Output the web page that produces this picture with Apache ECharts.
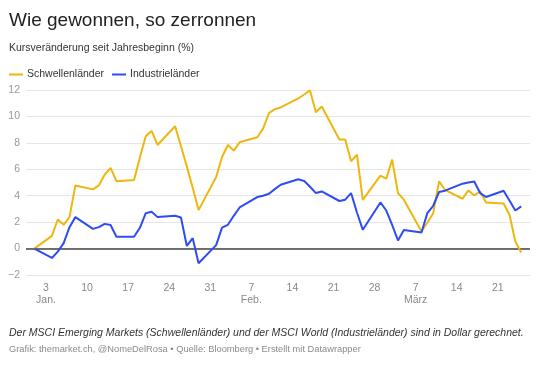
<!DOCTYPE html>
<html>
<head>
<meta charset="utf-8">
<script src="https://cdn.jsdelivr.net/npm/echarts@6/dist/echarts.min.js"></script>
<style>
html,body{margin:0;padding:0;background:#fff;}
#chart{width:540px;height:366px;}
</style>
</head>
<body>
<div id="chart"></div>
<script>
var seriesNames = ['Schwellenländer', 'Industrieländer'];

var dates = [
 '2021-01-01','2021-01-04','2021-01-05','2021-01-06','2021-01-07','2021-01-08',
 '2021-01-11','2021-01-12','2021-01-13','2021-01-14','2021-01-15',
 '2021-01-18','2021-01-19','2021-01-20','2021-01-21','2021-01-22',
 '2021-01-25','2021-01-26','2021-01-27','2021-01-28','2021-01-29',
 '2021-02-01','2021-02-02','2021-02-03','2021-02-04','2021-02-05',
 '2021-02-08','2021-02-09','2021-02-10','2021-02-11','2021-02-12',
 '2021-02-15','2021-02-16','2021-02-17','2021-02-18','2021-02-19',
 '2021-02-22','2021-02-23','2021-02-24','2021-02-25','2021-02-26',
 '2021-03-01','2021-03-02','2021-03-03','2021-03-04','2021-03-05',
 '2021-03-08','2021-03-09','2021-03-10','2021-03-11','2021-03-12',
 '2021-03-15','2021-03-16','2021-03-17','2021-03-18','2021-03-19',
 '2021-03-22','2021-03-23','2021-03-24','2021-03-25'
];

var emerging = [
 0, 0.96, 2.2, 1.8, 2.38, 4.78,
 4.48, 4.78, 5.6, 6.1, 5.1,
 5.19, 6.9, 8.5, 8.9, 7.84,
 9.26, 7.74, 6.22, 4.6, 2.91,
 5.42, 6.93, 7.84, 7.41, 8.04,
 8.42, 9.08, 10.25, 10.55, 10.68,
 11.36, 11.66, 11.97, 10.32, 10.75,
 8.25, 8.25, 6.6, 7.1, 3.69,
 5.52, 5.29, 6.73, 4.2, 3.7,
 1.29, 1.95, 2.68, 5.08, 4.45,
 3.77, 4.4, 4.02, 4.33, 3.49,
 3.41, 2.56, 0.53, -0.3
];

var developed = [
 0, -0.71, -0.23, 0.41, 1.62, 2.38,
 1.49, 1.62, 1.87, 1.78, 0.89,
 0.89, 1.57, 2.68, 2.78, 2.38,
 2.48, 2.35, 0.2, 0.79, -1.11,
 0.26, 1.59, 1.8, 2.48, 3.11,
 3.9, 4.0, 4.15, 4.5, 4.83,
 5.24, 5.11, 4.68, 4.2, 4.32,
 3.6, 3.7, 4.2, 2.73, 1.42,
 3.49, 2.88, 1.8, 0.61, 1.4,
 1.21, 2.68, 3.24, 4.28, 4.38,
 4.91, 5.0, 5.08, 4.2, 3.9,
 4.38, 3.64, 2.88, 3.19
];

var tickDates = ['2021-01-03','2021-01-10','2021-01-17','2021-01-24','2021-01-31',
 '2021-02-07','2021-02-14','2021-02-21','2021-02-28','2021-03-07','2021-03-14','2021-03-21'];
var tickLabels = ['3\nJan.','10','17','24','31','7\nFeb.','14','21','28','7\nMärz','14','21'];

var yTicks = [-2, 0, 2, 4, 6, 8, 10, 12];

var colors = ['#EDB70F', '#2D4CF3'];
var FONT = '"Liberation Sans", Arial, sans-serif';
var DAY = 86400000;

function ts(d){ var p = d.split('-'); return Date.UTC(+p[0], +p[1]-1, +p[2]); }
var tickTs = tickDates.map(ts);

function pairs(vals){ return dates.map(function(d,i){ return [ts(d), vals[i]]; }); }

var chart = echarts.init(document.getElementById('chart'), null, {renderer:'canvas'});
var option = {
  animation: false,
  backgroundColor: '#fff',
  textStyle: { fontFamily: FONT },
  graphic: [
    { type:'text', left: 9, top: 11, style:{ text:'Wie gewonnen, so zerronnen', font:'19px ' + FONT, fill:'#222' } },
    { type:'text', left: 9, top: 43, style:{ text:'Kursveränderung seit Jahresbeginn (%)', font:'10.5px ' + FONT, fill:'#333' } },
    { type:'text', left: 9, top: 328, style:{ text:'Der MSCI Emerging Markets (Schwellenländer) und der MSCI World (Industrieländer) sind in Dollar gerechnet.', font:'italic 10.5px ' + FONT, fill:'#333' } },
    { type:'text', left: 9, top: 345, style:{ text:'Grafik: themarket.ch, @NomeDelRosa • Quelle: Bloomberg • Erstellt mit Datawrapper', font:'9.3px ' + FONT, fill:'#8a8a8a' } }
  ],
  legend: {
    left: 4, top: 64,
    icon: 'rect', itemWidth: 14, itemHeight: 2, itemGap: 8,
    textStyle: { fontSize: 10.5, color: '#333', fontFamily: FONT, padding: [0,0,0,-1] },
    data: seriesNames
  },
  grid: { left: 26, right: 10, top: 90, bottom: 91, containLabel: false },
  xAxis: {
    type: 'value',
    min: ts('2020-12-30') + 14*3600*1000,
    max: ts('2021-03-26') + 12*3600*1000,
    axisLine: { show: false },
    axisTick: { show: false },
    splitLine: { show: false },
    axisLabel: {
      customValues: tickTs,
      color: '#888', fontSize: 10.5, fontFamily: FONT, lineHeight: 12, margin: 7,
      showMinLabel: true, showMaxLabel: true,
      formatter: function(v){
        for (var i = 0; i < tickTs.length; i++) { if (Math.abs(tickTs[i] - v) < DAY/2) return tickLabels[i]; }
        return '';
      }
    }
  },
  yAxis: {
    type: 'value', min: yTicks[0], max: yTicks[yTicks.length-1], interval: 2,
    axisLine: { show: false }, axisTick: { show: false },
    splitLine: { lineStyle: { color: '#e6e6e6', width: 1 } },
    axisLabel: {
      color: '#999', fontSize: 10.5, fontFamily: FONT, margin: 6,
      formatter: function(v){ return v < 0 ? '\u2212' + Math.abs(v) : String(v); }
    }
  },
  series: [
    {
      name: seriesNames[0], type: 'line', data: pairs(emerging),
      showSymbol: false, symbol: 'none', color: colors[0],
      lineStyle: { width: 2, color: colors[0] }, z: 3,
      markLine: {
        silent: true, symbol: 'none', label: { show: false },
        lineStyle: { color: '#444', width: 1.5, type: 'solid' },
        data: [{ yAxis: 0 }], z: 1
      }
    },
    {
      name: seriesNames[1], type: 'line', data: pairs(developed),
      showSymbol: false, symbol: 'none', color: colors[1],
      lineStyle: { width: 2, color: colors[1] }, z: 4
    }
  ]
};
chart.setOption(option);
</script>
</body>
</html>
